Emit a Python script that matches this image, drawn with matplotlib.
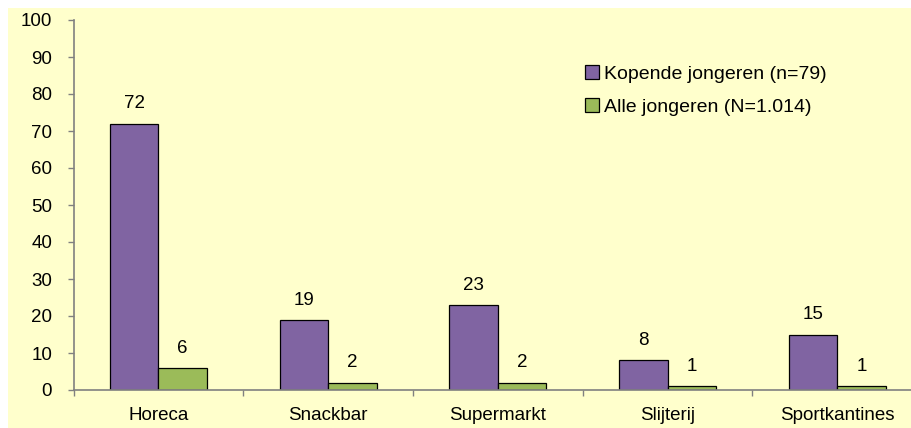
import matplotlib
matplotlib.use("Agg")
import matplotlib.pyplot as plt
import numpy as np
from matplotlib.patches import Rectangle

categories = ["Horeca", "Snackbar", "Supermarkt", "Slijterij", "Sportkantines"]
kopende = [72, 19, 23, 8, 15]
alle = [6, 2, 2, 1, 1]
series_names = ["Kopende jongeren (n=79)", "Alle jongeren (N=1.014)"]
yticks = [0, 10, 20, 30, 40, 50, 60, 70, 80, 90, 100]

plt.rcParams['font.family'] = ['Liberation Sans', 'DejaVu Sans']

W, H = 911, 428
fig = plt.figure(figsize=(W/100, H/100), dpi=100)
fig.patch.set_facecolor("white")
bg = "#FFFFCC"
fig.patches.append(Rectangle((8/W, 0), 1, 1 - 8/H, transform=fig.transFigure,
                             facecolor=bg, edgecolor="none", zorder=-10))

left = 73.6
catw = 169.7
ax = fig.add_axes([left/W, (H-390)/H, 5*catw/W, (390-20)/H])
ax.patch.set_alpha(0)

x = np.arange(len(categories))
bw = 1/3.5
purple = "#8064A2"
green = "#9BBB59"
fs = 13.5
b1 = ax.bar(x - bw/2, kopende, bw, color=purple, edgecolor="black", linewidth=0.9, label=series_names[0])
b2 = ax.bar(x + bw/2, alle, bw, color=green, edgecolor="black", linewidth=0.9, label=series_names[1])

for bars, vals in ((b1, kopende), (b2, alle)):
    for r, v in zip(bars, vals):
        ax.annotate(str(v), (r.get_x() + r.get_width()/2, v), xytext=(0, 8),
                    textcoords="offset points", ha="center", va="bottom", fontsize=fs)

ax.set_xlim(-0.5, len(categories) - 0.5)
ax.set_ylim(0, 100)
ax.set_yticks(yticks)
ax.tick_params(axis="y", direction="out", length=4.5, width=1, color="#808080", pad=11, labelsize=fs)

ax.set_xticks(np.arange(len(categories) + 1) - 0.5)
ax.set_xticklabels([])
ax.set_xticks(x, minor=True)
ax.set_xticklabels(categories, minor=True)
ax.tick_params(axis="x", which="major", direction="out", length=4.5, width=1, color="#808080")
ax.tick_params(axis="x", which="minor", length=0, pad=12, labelsize=fs)

for s in ["top", "right"]:
    ax.spines[s].set_visible(False)
for s in ["left", "bottom"]:
    ax.spines[s].set_color("#808080")
    ax.spines[s].set_linewidth(1.2)

leg = ax.legend(loc="upper left", bbox_to_anchor=(585/W, (H-65)/H), bbox_transform=fig.transFigure,
                frameon=False, fontsize=14, handlelength=0.7, handleheight=0.7, handletextpad=0.3,
                labelspacing=0.8, borderaxespad=0, borderpad=0)

fig.savefig("out.png", dpi=100)
